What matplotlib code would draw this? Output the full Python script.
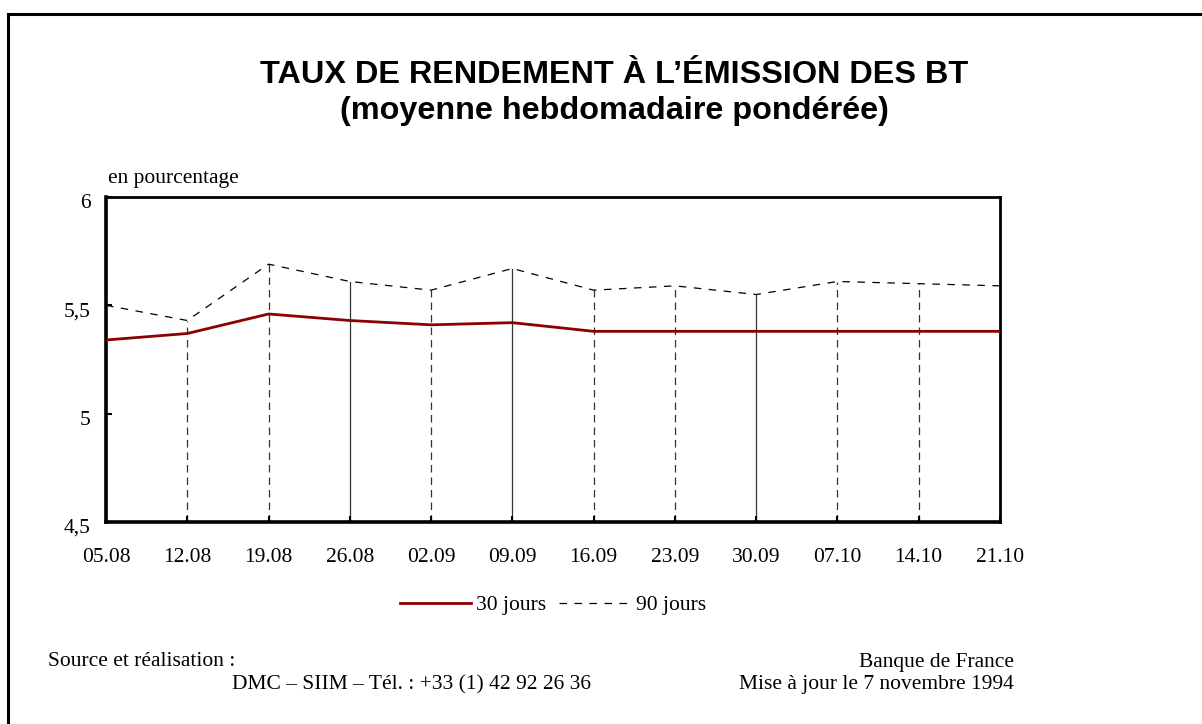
import numpy as np
import matplotlib.pyplot as plt
import matplotlib.transforms as mtransforms
from matplotlib.lines import Line2D

# weekly dates and yields (en pourcentage)
dates = ["05.08", "12.08", "19.08", "26.08", "02.09", "09.09",
         "16.09", "23.09", "30.09", "07.10", "14.10", "21.10"]
j30 = [5.34, 5.37, 5.46, 5.43, 5.41, 5.42, 5.38, 5.38, 5.38, 5.38, 5.38, 5.38]
j90 = [5.50, 5.43, 5.69, 5.61, 5.57, 5.67, 5.57, 5.59, 5.55, 5.61, 5.60, 5.59]
yticks = [4.5, 5, 5.5, 6]
ylabels = ["4,5", "5", "5,5", "6"]

serif = "Liberation Serif"
sans = "Liberation Sans"
fs = 15.5

fig = plt.figure(figsize=(12.02, 7.24), dpi=100)
ax = fig.add_axes([106/1202, 1-522/724, 894/1202, 325/724])

x = np.arange(len(dates))

# drop lines from the bottom up to the 90 jours line
solid_idx = [3, 5, 8]
for i in x[1:-1]:
    ls = "-" if i in solid_idx else (0, (6, 4))
    ax.plot([i, i], [4.5, j90[i]], color="#333333", lw=0.9, ls=ls, zorder=1)

ax.plot(x, j90, color="black", lw=0.9, ls=(0, (6, 6)), label="90 jours", zorder=2)
ax.plot(x, j30, color="#8b0000", lw=2.0, label="30 jours", zorder=3)

ax.set_xlim(0, len(dates) - 1)
ax.set_ylim(4.5, 6)
ax.set_xticks(x)
ax.set_xticklabels(dates, fontfamily=serif, fontsize=fs)
ax.set_yticks(yticks)
ax.set_yticklabels(ylabels, fontfamily=serif, fontsize=fs)
ax.tick_params(axis="both", direction="in", length=4, width=1.5, color="black")
ax.tick_params(axis="x", pad=19)
ax.tick_params(axis="y", pad=11)
# y labels sit a little below their ticks in the original
off = mtransforms.ScaledTranslation(0, -4/100, fig.dpi_scale_trans)
for lab in ax.get_yticklabels():
    lab.set_transform(lab.get_transform() + off)
for s in ["left", "bottom"]:
    ax.spines[s].set_linewidth(2.6)
for s in ["top", "right"]:
    ax.spines[s].set_linewidth(2.0)

fig.text(108/1202, 1-178/724, "en pourcentage", fontfamily=serif, fontsize=fs,
         va="center", ha="left")

fig.text(614/1202, 1-75/724, "TAUX DE RENDEMENT À L\u2019ÉMISSION DES BT",
         fontfamily=sans, fontweight="bold", fontsize=23.3, ha="center", va="center")
fig.text(614/1202, 1-111/724, "(moyenne hebdomadaire pondérée)",
         fontfamily=sans, fontweight="bold", fontsize=23.3, ha="center", va="center")

# legend
h30 = Line2D([], [], color="#8b0000", lw=2.0)
h90 = Line2D([], [], color="black", lw=0.9, ls=(0, (6, 6)))
fig.legend([h30, h90], ["30 jours", "90 jours"], ncol=2, frameon=False,
           loc="center", bbox_to_anchor=(553/1202, 1-605/724),
           prop={"family": serif, "size": fs}, handlelength=3.3,
           handletextpad=0.25, columnspacing=0.6)

fig.text(48/1202, 1-662/724, "Source et réalisation :", fontfamily=serif,
         fontsize=fs, va="center", ha="left")
fig.text(232/1202, 1-685/724, "DMC \u2013 SIIM \u2013 Tél. : +33 (1) 42 92 26 36",
         fontfamily=serif, fontsize=fs, va="center", ha="left")
fig.text(1014/1202, 1-662/724, "Banque de France", fontfamily=serif,
         fontsize=fs, va="center", ha="right")
fig.text(1014/1202, 1-685/724, "Mise à jour le 7 novembre 1994", fontfamily=serif,
         fontsize=fs, va="center", ha="right")

# outer frame (top and left edges)
fig.add_artist(Line2D([8/1202, 1], [1-14/724, 1-14/724], color="black", lw=2.2,
                      transform=fig.transFigure))
fig.add_artist(Line2D([8/1202, 8/1202], [0, 1-14/724], color="black", lw=2.2,
                      transform=fig.transFigure))

fig.savefig("out.png", dpi=100)
